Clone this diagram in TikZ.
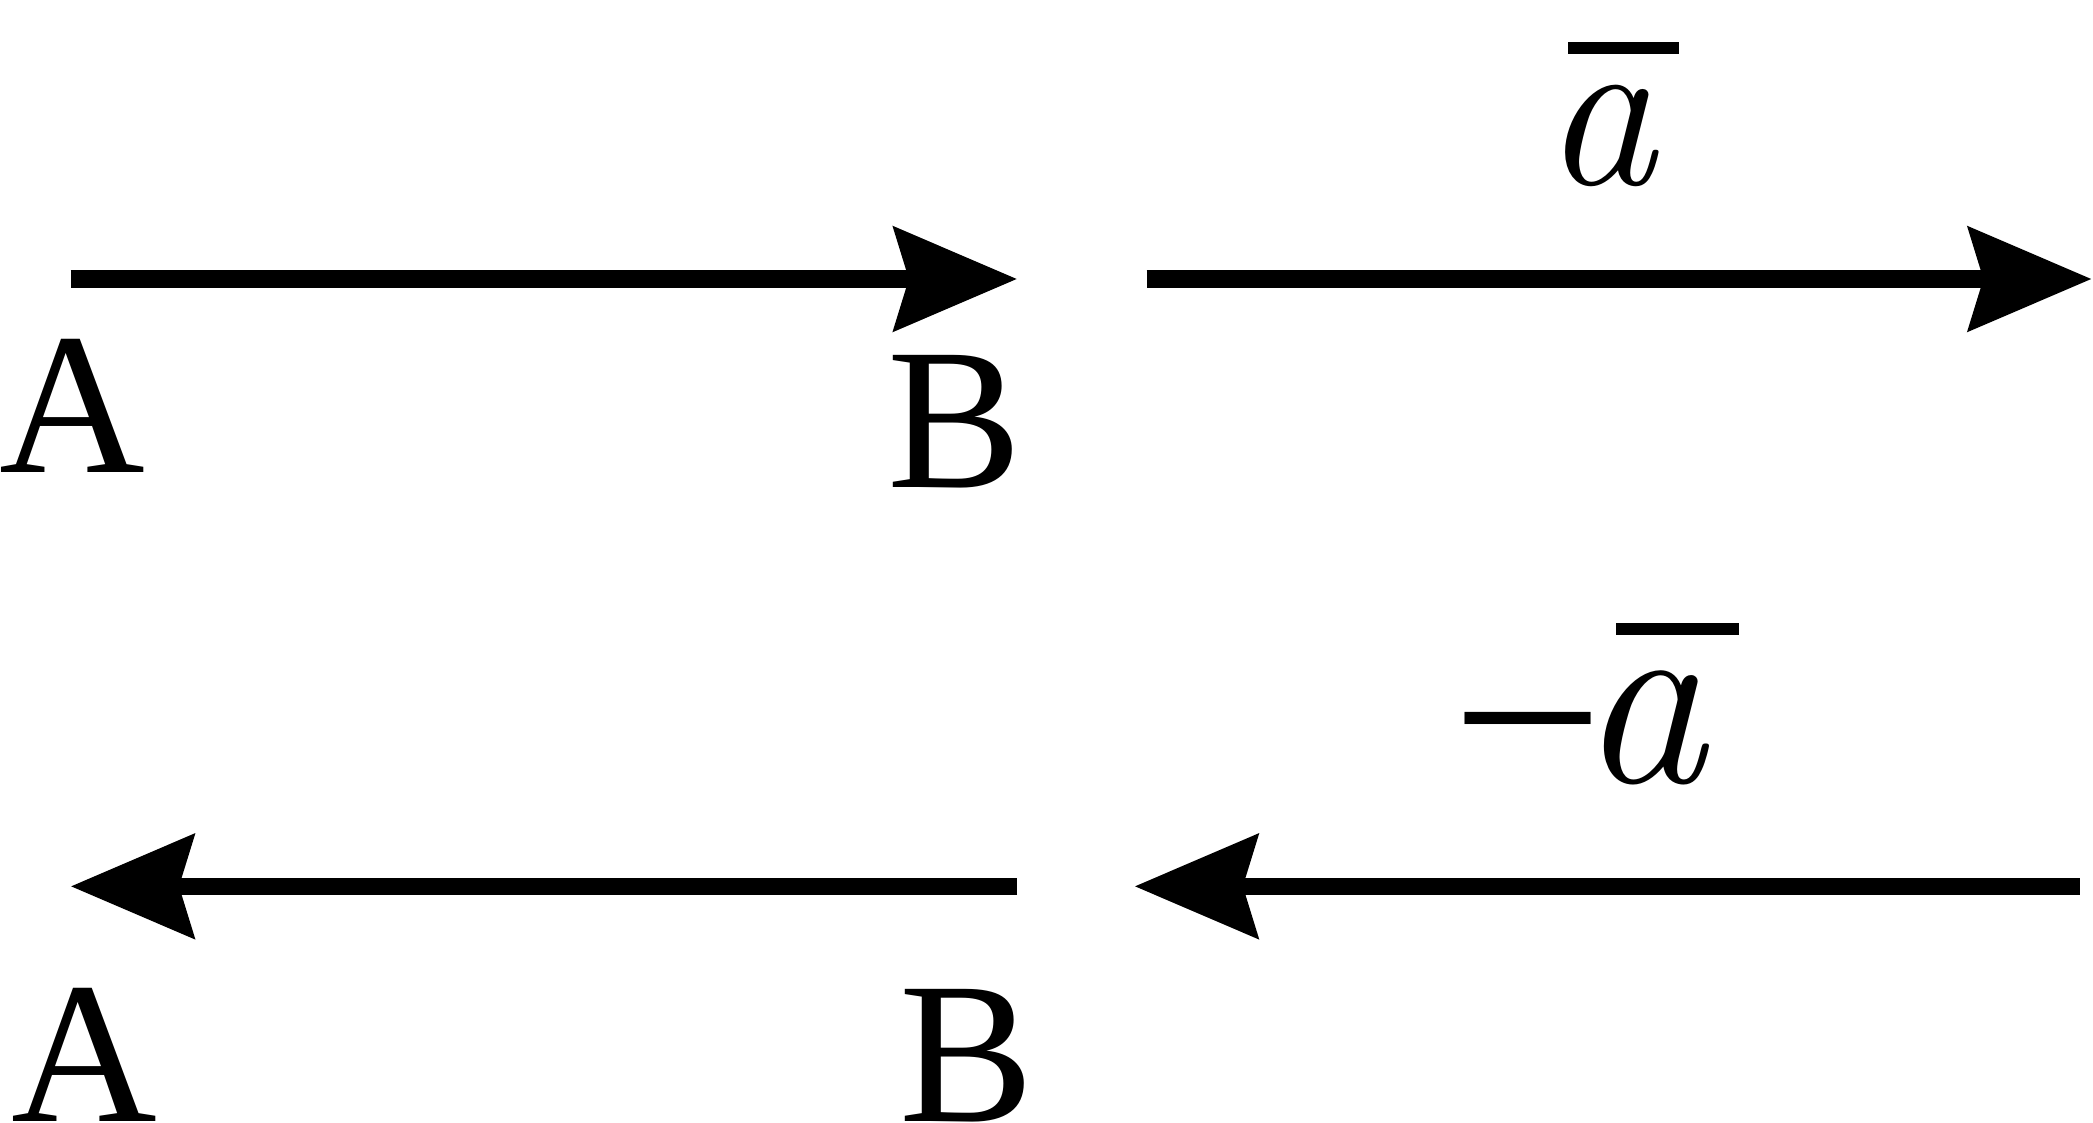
\documentclass[tikz,border=0pt]{standalone}
\usepackage{fontspec}
\newfontfamily\libserif{Liberation Serif}
\usetikzlibrary{arrows.meta}
\begin{document}
\begin{tikzpicture}[x=0.01cm,y=-0.01cm,
  vec/.style={line width=0.13cm,-{Stealth[length=0.92cm,width=0.77cm,inset=0.11cm]}},
  caplabel/.style={font=\libserif\fontsize{43}{43}\selectfont, inner sep=0pt, anchor=base},
  veclabel/.style={inner sep=0pt, anchor=base west},
  barline/.style={line width=0.09cm}]
\useasboundingbox (0,0) rectangle (1568,841);
% arrow end points
\coordinate (A1) at (53,209);
\coordinate (B1) at (762,209);
\coordinate (C1) at (859,209);
\coordinate (D1) at (1567,209);
\coordinate (A2) at (53,664);
\coordinate (B2) at (762,664);
\coordinate (C2) at (850,664);
\coordinate (D2) at (1558,664);
% arrows
\draw[vec] (A1) -- (B1);
\draw[vec] (C1) -- (D1);
\draw[vec] (B2) -- (A2);
\draw[vec] (D2) -- (C2);
% point labels
\node[caplabel] (lA1) at (54,354) {A};
\node[caplabel] (lB1) at (715,365) {B};
\node[caplabel] (lA2) at (63,840) {A};
\node[caplabel] (lB2) at (724,840) {B};
% vector labels
\node[veclabel, font=\fontsize{48}{48}\selectfont\itshape] (va) at (1156,138) {a};
\draw[barline] (1175,36) -- (1258,36);
\node[veclabel, font=\libserif\fontsize{52}{52}\selectfont] (vna) at (1087,586)
  {\raisebox{-0.13cm}{\scalebox{1.11}[1]{−}}\hspace{-0.19cm}{\normalfont\fontsize{54}{54}\selectfont\itshape a}};
\draw[barline] (1211,471.5) -- (1303,471.5);
\end{tikzpicture}
\end{document}
